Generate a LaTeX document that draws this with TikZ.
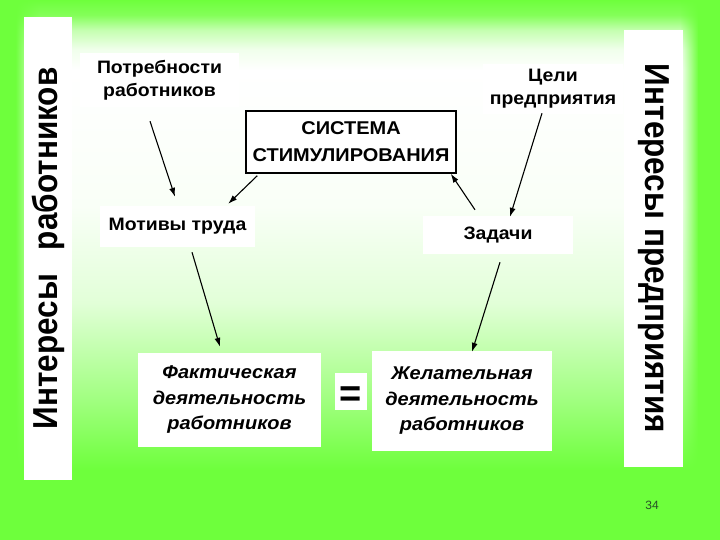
\documentclass[tikz,border=0pt]{standalone}
\usepackage{fontspec}
\setmainfont{Liberation Sans}
\newfontfamily\lab[FakeStretch=1.08]{Liberation Sans}
\usetikzlibrary{fadings,arrows.meta}
\definecolor{gbg}{RGB}{110,255,60}
\definecolor{pgnum}{RGB}{40,80,40}
\pgfdeclareverticalshading{bgv}{100bp}{color(0bp)=(gbg); color(25bp)=(gbg); color(31.5bp)=(gbg); color(38bp)=(gbg!65!white); color(47bp)=(gbg!20!white); color(56bp)=(gbg!4!white); color(68.5bp)=(white); color(70.4bp)=(gbg!10!white); color(72.2bp)=(gbg!40!white); color(73.6bp)=(gbg!85!white); color(75bp)=(gbg); color(100bp)=(gbg)}
\tikzset{
  wbox/.style={fill=white, inner sep=0pt, align=center, font=\lab\bfseries\fontsize{18}{23}\selectfont},
  itbox/.style={fill=white, inner sep=0pt, align=center, font=\lab\bfseries\itshape\fontsize{18.5}{25.5}\selectfont},
  vbox/.style={fill=white, inner sep=0pt, font=\bfseries\fontsize{31.5}{32}\selectfont},
  arr/.style={-{Latex[length=9pt,width=6pt]}, line width=1.1pt}
}
\begin{document}
\begin{tikzpicture}[x=1pt,y=-1pt]
\useasboundingbox (0,0) rectangle (720,540);
\shade[shading=bgv] (0,0) rectangle (720,540);
\fill[gbg] (0,0) rectangle (16,540);
\fill[gbg, path fading=east] (15.5,0) rectangle (40,540);
\fill[gbg] (698,0) rectangle (720,540);
\fill[gbg, path fading=west] (680,0) rectangle (698.5,540);

\node[vbox, rotate=90, minimum width=463, minimum height=48] (lbox) at (48,248.5)
  {\scalebox{1}[1.1]{Интересы\hspace{24pt}работников}};
\node[vbox, rotate=-90, minimum width=437, minimum height=59] (rbox) at (653.5,248.5)
  {\scalebox{1}[1.1]{Интересы предприятия}};

\node[wbox, minimum width=159, minimum height=54] (potr) at (159.5,80) {Потребности\\работников};
\node[wbox, minimum width=140, minimum height=50] (celi) at (553,89) {Цели\\предприятия};
\node[wbox, draw=black, line width=1.5pt, minimum width=210, minimum height=62,
      font=\lab\bfseries\fontsize{18.5}{27}\selectfont] (sys) at (351,142) {СИСТЕМА\\СТИМУЛИРОВАНИЯ};
\node[wbox, minimum width=155, minimum height=41] (motiv) at (177.5,226.5) {Мотивы труда};
\node[wbox, minimum width=150, minimum height=38] (zad) at (498,235) {Задачи};
\node[itbox, minimum width=183, minimum height=94] (fakt) at (229.5,400) {Фактическая\\деятельность\\работников};
\node[itbox, minimum width=180, minimum height=100] (zhel) at (462,401) {Желательная\\деятельность\\работников};
\node[fill=white, inner sep=0pt, minimum width=32, minimum height=37] (eqbox) at (351,391) {};
\node[inner sep=0pt, font=\bfseries\fontsize{38}{38}\selectfont] (eq) at (350.5,397) {=};
\node[inner sep=0pt, text=pgnum, font=\fontsize{12}{12}\selectfont] (pg) at (652,505) {34};

\draw[arr] ([shift={(-9.5,14)}]potr.south) -- ([shift={(-2.5,-9)}]motiv.north);
\draw[arr] ([shift={(12,2)}]sys.south west) -- ([shift={(-27,-2)}]motiv.north east);
\draw[arr] ([shift={(-23,-6)}]zad.north) -- ([shift={(-6,0)}]sys.south east);
\draw[arr] ([shift={(-11,-1)}]celi.south) -- ([shift={(12,1)}]zad.north);
\draw[arr] ([shift={(14.5,5)}]motiv.south) -- ([shift={(-9.5,-6)}]fakt.north);
\draw[arr] ([shift={(2,8)}]zad.south) -- ([shift={(10,1)}]zhel.north);
\end{tikzpicture}
\end{document}
